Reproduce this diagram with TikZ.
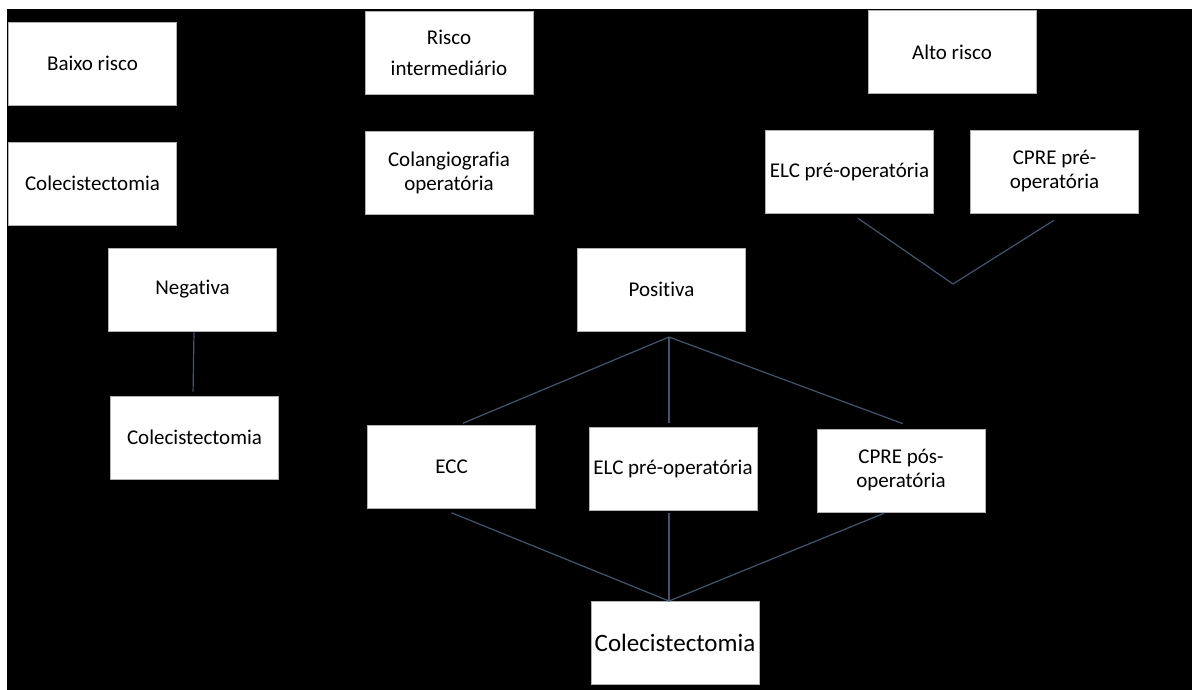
\documentclass[tikz,border=0pt]{standalone}
\usepackage{fontspec}
\setmainfont{Carlito}[Ligatures=NoCommon]
\usepackage{xcolor}
\usepackage{tikz}
\usetikzlibrary{calc,positioning}

\definecolor{linecol}{RGB}{68,84,106}

\begin{document}
\begin{tikzpicture}[x=1pt,y=-1pt,
  box/.style={draw=gray!60,line width=0.6pt,fill=white,minimum width=168pt,minimum height=83pt,inner sep=2pt,align=center,font=\fontsize{21}{24}\selectfont},
  conn/.style={draw=linecol,line width=1.2pt}]

\useasboundingbox (0,0) rectangle (1192,690);
\fill[white] (0,0) rectangle (1192,690);
\fill[black] (7,9) rectangle (1192,690);

% first row: risk groups
  \node[box] (baixo) at (92.5,63.5) {Baixo risco};
  \node[box] (inter) at (449,52.5) {Risco\\[7pt]intermediário};
  \node[box] (alto) at (952,52) {Alto risco};

% second row
  \node[box] (cole1) at (92.5,183.5) {Colecistectomia};
  \node[box] (colang) at (449,172.5) {Colangiografia\\operatória};
  \node[box] (elc1) at (849.5,171.5) {ELC pré-operatória};
  \node[box] (cpre1) at (1054.5,171.5) {CPRE pré-\\operatória};

% results of the cholangiography
  \node[box] (neg) at (192.5,289.5) {Negativa};
  \node[box] (pos) at (661.5,289.5) {Positiva};
  \node[box] (cole2) at (194.5,437.5) {Colecistectomia};

  \node[box] (ecc) at (451.5,467) {ECC};
  \node[box] (elc2) at (673,468.5) {ELC pré-operatória};
  \node[box] (cpre2) at (901,470.5) {CPRE pós-\\operatória};

  \node[box,font=\fontsize{25}{28}\selectfont] (cole3) at (675,642.5) {Colecistectomia};

  \coordinate (jalto) at (953,284);
  \coordinate (jpos) at (669,337);
  \coordinate (jbot) at (669,601);

  \draw[conn,shorten <=1pt,shorten >=4pt] ([xshift=1.5pt]neg.south) -- ([xshift=-1.5pt]cole2.north);

  \draw[conn] ([xshift=8.5pt,yshift=-5pt]elc1.south) -- (jalto);
  \draw[conn] ([xshift=-0.5pt,yshift=-7pt]cpre1.south) -- (jalto);

  \draw[conn] (jpos) -- ([xshift=11.5pt,yshift=2pt]ecc.north);
  \draw[conn] (jpos) -- ([xshift=-4pt,yshift=4pt]elc2.north);
  \draw[conn] (jpos) -- ([xshift=2pt,yshift=5pt]cpre2.north);

  \draw[conn] ([yshift=-4pt]ecc.south) -- (jbot);
  \draw[conn] ([xshift=-4pt,yshift=-3pt]elc2.south) -- (jbot);
  \draw[conn] ([xshift=-17pt,yshift=-1pt]cpre2.south) -- (jbot);
 \end{tikzpicture}
\end{document}
